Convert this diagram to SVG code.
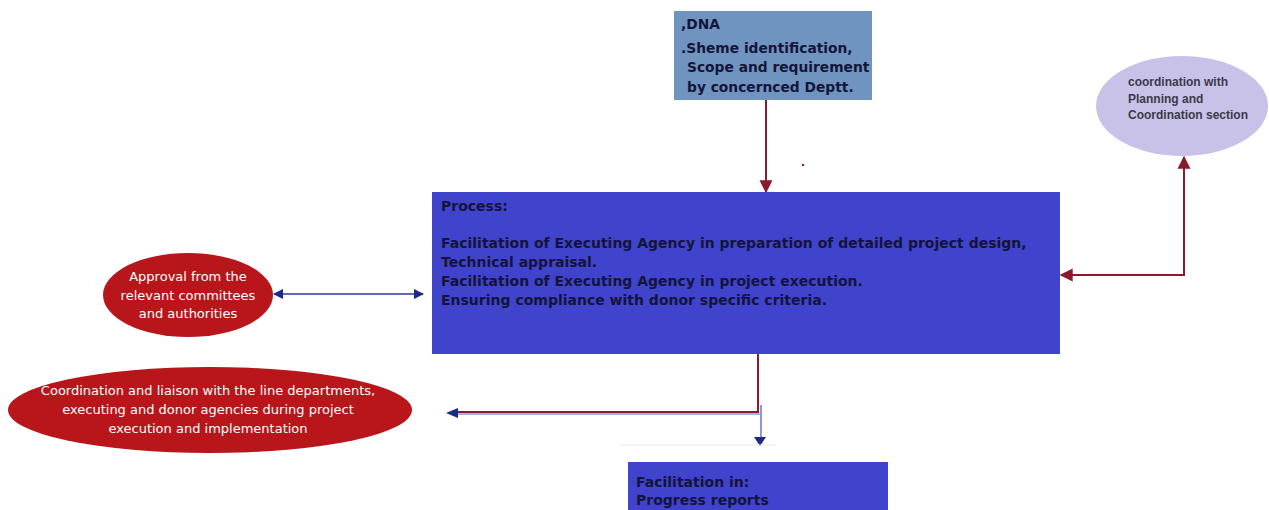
<svg xmlns="http://www.w3.org/2000/svg" width="1269" height="510" viewBox="0 0 1269 510">
  <style>
    .box-txt { font-family: "DejaVu Sans", "Liberation Sans", sans-serif; font-size: 14px; font-weight: bold; fill: #14143a; }
    .top-txt { font-size: 13.8px; }
    .small-txt { font-family: "Liberation Sans", Arial, sans-serif; font-size: 12px; font-weight: bold; fill: #3a3a4a; }
    .white-txt { font-family: "DejaVu Sans", "Liberation Sans", sans-serif; font-size: 13px; fill: #ffffff; text-anchor: middle; }
    .red-line { stroke: #8b1a2e; stroke-width: 2; fill: none; }
    .blue-line { stroke: #2a3a9a; stroke-width: 1.5; fill: none; }
  </style>
  <defs>
    <marker id="redHead" viewBox="0 0 10 10" refX="9" refY="5" markerWidth="6.5" markerHeight="7.5" orient="auto-start-reverse">
      <path d="M0,0 L10,5 L0,10 z" fill="#8b1a2e"/>
    </marker>
    <marker id="blueHead" viewBox="0 0 10 10" refX="9" refY="5" markerWidth="7" markerHeight="7" orient="auto-start-reverse">
      <path d="M0,0 L10,5 L0,10 z" fill="#1a2a8a"/>
    </marker>
  </defs>
  <rect width="1269" height="510" fill="#ffffff"/>

  <g id="connectors">
    <!-- input box to process -->
    <line class="red-line" x1="766" y1="100" x2="766" y2="192" marker-end="url(#redHead)"/>
    <!-- process <-> planning section -->
    <polyline class="red-line" points="1061,275 1184,275 1184,157" marker-start="url(#redHead)" marker-end="url(#redHead)"/>
    <!-- process <-> approvals -->
    <line class="blue-line" x1="274" y1="294" x2="423" y2="294" marker-start="url(#blueHead)" marker-end="url(#blueHead)"/>
    <!-- process down to coordination and reports -->
    <line x1="760" y1="414" x2="456" y2="414" stroke="#8a9ad8" stroke-width="1.5"/>
    <polyline class="red-line" points="758,354 758,412 456,412"/>
    <path d="M446,413 L458,408 L458,418 z" fill="#1a2a8a"/>
    <line x1="761" y1="405" x2="761" y2="440" stroke="#8a9ad8" stroke-width="2"/>
    <path d="M754,437 L766,437 L760,446 z" fill="#1a2a8a"/>
    <line x1="620" y1="445" x2="776" y2="445" stroke="#ece8dc" stroke-width="1"/>
    <circle cx="803" cy="165" r="1.2" fill="#8b1a2e"/>
  </g>

  <g id="node-input">
    <rect x="674" y="11" width="198" height="89" fill="#7094c0"/>
    <text class="box-txt top-txt" x="681" y="29">,DNA</text>
    <text class="box-txt top-txt" x="681" y="53">.Sheme identification,</text>
    <text class="box-txt top-txt" x="687" y="72">Scope and requirement</text>
    <text class="box-txt top-txt" x="687" y="92">by concernced Deptt.</text>
  </g>

  <g id="node-process">
    <rect x="432" y="192" width="628" height="162" fill="#4044cc"/>
    <text class="box-txt" x="441" y="211">Process:</text>
    <text class="box-txt" x="441" y="248">Facilitation of Executing Agency in preparation of detailed project design,</text>
    <text class="box-txt" x="441" y="267">Technical appraisal.</text>
    <text class="box-txt" x="441" y="286">Facilitation of Executing Agency in project execution.</text>
    <text class="box-txt" x="441" y="305">Ensuring compliance with donor specific criteria.</text>
  </g>

  <g id="node-planning">
    <ellipse cx="1182" cy="106" rx="86" ry="50" fill="#c8c2e8"/>
    <text class="small-txt" x="1128" y="86">coordination with</text>
    <text class="small-txt" x="1128" y="103">Planning and</text>
    <text class="small-txt" x="1128" y="119">Coordination section</text>
  </g>

  <g id="node-approval">
    <ellipse cx="188" cy="295" rx="85" ry="42" fill="#b8161a"/>
    <text class="white-txt" x="188" y="281">Approval from the</text>
    <text class="white-txt" x="188" y="300">relevant committees</text>
    <text class="white-txt" x="188" y="318">and authorities</text>
  </g>

  <g id="node-liaison">
    <ellipse cx="210" cy="410" rx="202" ry="43" fill="#b8161a"/>
    <text class="white-txt" x="208" y="395">Coordination and liaison with the line departments,</text>
    <text class="white-txt" x="208" y="414">executing and donor agencies during project</text>
    <text class="white-txt" x="208" y="433">execution and implementation</text>
  </g>

  <g id="node-reports">
    <rect x="628" y="462" width="260" height="48" fill="#4044cc"/>
    <text class="box-txt" x="636" y="487">Facilitation in:</text>
    <text class="box-txt" x="636" y="505">Progress reports</text>
  </g>
</svg>
